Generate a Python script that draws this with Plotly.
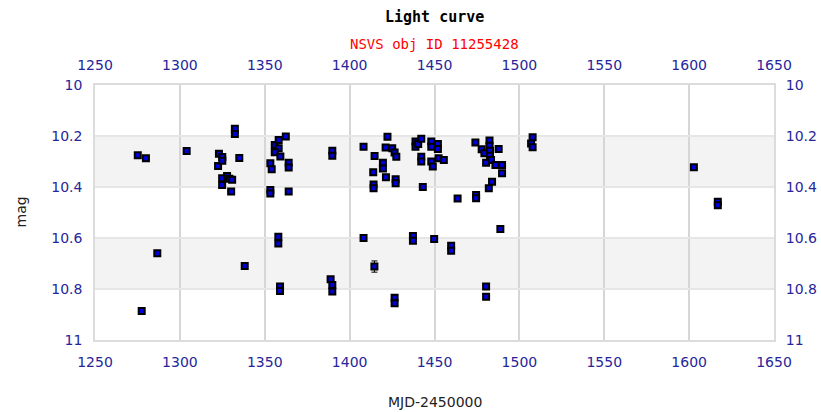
import plotly.graph_objects as go

# Data
mjd = [1275.2, 1280.0, 1277.5, 1286.7, 1304.0, 1322.5, 1323.0, 1325.0, 1325.0, 1324.9,
       1324.9, 1327.8, 1329.2, 1330.8, 1330.2, 1332.4, 1332.4, 1335.0, 1338.2, 1353.3,
       1354.1, 1353.3, 1353.3, 1355.9, 1358.2, 1362.4, 1358.2, 1355.9, 1359.2, 1364.1,
       1364.1, 1364.1, 1358.0, 1358.0, 1359.0, 1359.0, 1388.8, 1389.8, 1389.8, 1389.8,
       1389.8, 1408.2, 1408.2, 1414.7, 1413.9, 1414.1, 1414.1, 1414.6, 1419.6, 1419.6,
       1421.4, 1422.3, 1421.2, 1425.1, 1426.5, 1427.5, 1427.1, 1427.1, 1426.5, 1426.5,
       1437.3, 1437.3, 1438.8, 1438.8, 1440.4, 1442.2, 1442.2, 1442.2, 1443.1, 1448.1,
       1448.1, 1452.0, 1452.0, 1448.1, 1449.0, 1452.4, 1455.5, 1449.8, 1459.8, 1459.8,
       1463.6, 1474.1, 1474.5, 1474.5, 1477.8, 1479.4, 1482.4, 1482.4, 1482.7, 1482.7,
       1487.8, 1483.3, 1480.4, 1485.9, 1489.8, 1489.8, 1483.9, 1482.0, 1488.8, 1480.4,
       1480.4, 1507.8, 1506.9, 1507.8, 1602.8, 1616.9, 1616.9]
mag = [10.275, 10.287, 10.886, 10.660, 10.259, 10.318, 10.270, 10.282, 10.297, 10.366,
       10.392, 10.357, 10.368, 10.372, 10.418, 10.172, 10.192, 10.286, 10.710, 10.307,
       10.330, 10.412, 10.425, 10.235, 10.216, 10.202, 10.248, 10.264, 10.280, 10.305,
       10.324, 10.418, 10.595, 10.622, 10.790, 10.808, 10.762, 10.784, 10.810, 10.258,
       10.277, 10.242, 10.600, 10.278, 10.342, 10.390, 10.405, 10.712, 10.305, 10.327,
       10.362, 10.203, 10.245, 10.248, 10.265, 10.281, 10.370, 10.385, 10.834, 10.856,
       10.592, 10.611, 10.222, 10.242, 10.231, 10.211, 10.281, 10.300, 10.400, 10.222,
       10.242, 10.231, 10.251, 10.300, 10.320, 10.287, 10.294, 10.604, 10.630, 10.650,
       10.445, 10.225, 10.431, 10.444, 10.252, 10.268, 10.218, 10.238, 10.258, 10.277,
       10.251, 10.294, 10.305, 10.314, 10.314, 10.346, 10.379, 10.405, 10.565, 10.790,
       10.830, 10.205, 10.229, 10.244, 10.323, 10.458, 10.472]
err = [0.008] * len(mag)
err[47] = 0.022

x_ticks = [1250, 1300, 1350, 1400, 1450, 1500, 1550, 1600, 1650]
y_ticks = [10, 10.2, 10.4, 10.6, 10.8, 11]
y_labels = ["10", "10.2", "10.4", "10.6", "10.8", "11"]
bands = [(10.2, 10.4), (10.6, 10.8)]

TICK_COLOR = "#26269a"
tickfont = dict(family="DejaVu Sans", size=14, color=TICK_COLOR)

fig = go.Figure()
fig.add_trace(go.Scatter(
    x=mjd, y=mag, mode="markers",
    marker=dict(symbol="square", size=6, color="#0000dd",
                line=dict(color="black", width=2)),
    error_y=dict(type="data", array=err, color="black", thickness=1, width=3),
    showlegend=False, hoverinfo="x+y"))
# invisible trace to anchor the mirrored top/right axes
fig.add_trace(go.Scatter(x=[x_ticks[0]], y=[y_ticks[0]], xaxis="x2", yaxis="y2",
                         mode="markers", marker=dict(opacity=0),
                         showlegend=False, hoverinfo="skip"))

for lo, hi in bands:
    fig.add_shape(type="rect", xref="paper", yref="y", x0=0, x1=1, y0=lo, y1=hi,
                  fillcolor="#f3f3f3", line=dict(width=0), layer="below")

common_x = dict(range=[1250, 1650], tickvals=x_ticks, tickfont=tickfont,
                ticks="outside", ticklen=8, tickcolor="rgba(0,0,0,0)",
                automargin=False, zeroline=False)
common_y = dict(range=[11, 10], tickvals=y_ticks, ticktext=y_labels, tickfont=tickfont,
                ticks="outside", ticklen=8, tickcolor="rgba(0,0,0,0)",
                automargin=False, zeroline=False)

fig.update_layout(
    width=821, height=412,
    margin=dict(l=95, r=47, t=85, b=72),
    paper_bgcolor="white", plot_bgcolor="white",
    font=dict(family="DejaVu Sans"),
    xaxis=dict(**common_x, showgrid=True, gridcolor="#d6d6d6", gridwidth=2,
               showline=True, linecolor="#dcdcdc", linewidth=1.5, mirror=True),
    xaxis2=dict(**common_x, overlaying="x", side="top", showgrid=False, anchor="y"),
    yaxis=dict(**common_y, showgrid=True, gridcolor="#e6e6e6", gridwidth=1.5,
               showline=True, linecolor="#dcdcdc", linewidth=1.5, mirror=True),
    yaxis2=dict(**common_y, overlaying="y", side="right", showgrid=False, anchor="x"),
    annotations=[
        dict(text="<b>Light curve</b>", xref="paper", yref="paper", x=0.5, y=1,
             yshift=68, showarrow=False, xanchor="center", yanchor="middle",
             font=dict(family="DejaVu Sans Mono", size=15, color="black")),
        dict(text="NSVS obj ID 11255428", xref="paper", yref="paper", x=0.5, y=1,
             yshift=41, showarrow=False, xanchor="center", yanchor="middle",
             font=dict(family="DejaVu Sans Mono", size=14, color="#ff0000")),
        dict(text="MJD-2450000", xref="paper", yref="paper", x=0.5, y=0,
             yshift=-62, showarrow=False, xanchor="center", yanchor="middle",
             font=dict(family="DejaVu Sans", size=14, color="#222222")),
        dict(text="mag", xref="paper", yref="paper", x=0, y=0.5, xshift=-75,
             textangle=-90, showarrow=False, xanchor="center", yanchor="middle",
             font=dict(family="DejaVu Sans", size=14, color="#222222")),
    ],
)

fig.write_html("out.html")
